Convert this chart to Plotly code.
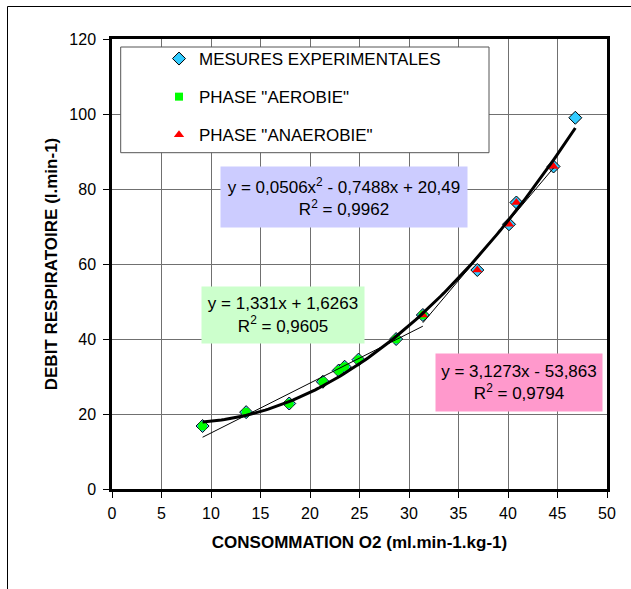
import plotly.graph_objects as go

# ---- data ----
vo2 = [9.15, 13.55, 17.9, 21.3, 22.9, 23.5, 24.9, 28.7, 31.4, 36.9, 40.1, 40.85, 44.6, 46.8]
debit = [16.8, 20.5, 22.8, 28.6, 31.6, 32.6, 34.5, 40.0, 46.4, 58.4, 70.6, 76.4, 86.0, 99.0]

aero_x = [9.15, 13.55, 17.9, 21.3, 22.9, 23.5, 24.9, 28.7, 31.4]
aero_y = [16.8, 20.5, 22.8, 28.6, 31.6, 32.6, 34.5, 40.0, 46.4]

anaero_x = [31.4, 36.9, 40.1, 40.85, 44.6]
anaero_y = [46.4, 58.4, 70.6, 76.4, 86.0]

# trendline coefficients as printed on the chart
poly_coefs = [0.0506, -0.7488, 20.49]
aero_coefs = [1.331, 1.6263]
anaero_coefs = [3.1273, -53.863]

x_ticks = [0, 5, 10, 15, 20, 25, 30, 35, 40, 45, 50]
y_ticks = [0, 20, 40, 60, 80, 100, 120]

FONT = "Liberation Sans, Arial, sans-serif"

# ---- trendline evaluation ----
def sample(x0, x1, n=120):
    return [x0 + (x1 - x0) * i / (n - 1) for i in range(n)]

px_ = sample(min(vo2), max(vo2))
py_ = [poly_coefs[0] * x * x + poly_coefs[1] * x + poly_coefs[2] for x in px_]
ax_ = [min(aero_x), max(aero_x)]
ay_ = [aero_coefs[0] * x + aero_coefs[1] for x in ax_]
nx_ = [min(anaero_x), max(anaero_x)]
ny_ = [anaero_coefs[0] * x + anaero_coefs[1] for x in nx_]

fig = go.Figure()

fig.add_trace(go.Scatter(
    x=vo2, y=debit, mode="markers", name="MESURES EXPERIMENTALES",
    legendgroup="a",
    marker=dict(symbol="diamond", size=10, color="#33CCFF",
                line=dict(color="black", width=1)),
))
fig.add_trace(go.Scatter(
    x=aero_x, y=aero_y, mode="markers", name='PHASE "AEROBIE"',
    showlegend=False,
    marker=dict(symbol="circle", size=9, color="#00FF00", line=dict(width=0)),
))
fig.add_trace(go.Scatter(
    x=[None], y=[None], mode="markers", name='PHASE "AEROBIE"',
    legendgroup="b",
    marker=dict(symbol="square", size=8, color="#00FF00", line=dict(width=0)),
))
fig.add_trace(go.Scatter(
    x=anaero_x, y=anaero_y, mode="markers", name='PHASE "ANAEROBIE"',
    legendgroup="c",
    marker=dict(symbol="triangle-up", size=9, color="#FF0000", line=dict(width=0)),
))
fig.add_trace(go.Scatter(x=px_, y=py_, mode="lines", showlegend=False,
                         line=dict(color="black", width=3), hoverinfo="skip"))
fig.add_trace(go.Scatter(x=ax_, y=ay_, mode="lines", showlegend=False,
                         line=dict(color="black", width=1), hoverinfo="skip"))
fig.add_trace(go.Scatter(x=nx_, y=ny_, mode="lines", showlegend=False,
                         line=dict(color="black", width=1), hoverinfo="skip"))

L, R, T, B = 112, 24, 39, 100
W, H = 631, 589
PW, PH = W - L - R, H - T - B

def pxx(p):
    return (p - L) / PW

def pyy(p):
    return (H - B - p) / PH

fig.update_layout(
    width=W, height=H,
    margin=dict(l=L, r=R, t=T, b=B, pad=0),
    paper_bgcolor="white", plot_bgcolor="white",
    font=dict(family=FONT, size=16, color="black"),
    showlegend=True,
    legend=dict(x=pxx(159), y=pyy(41), xanchor="left", yanchor="top",
                bgcolor="rgba(0,0,0,0)", borderwidth=0,
                font=dict(family=FONT, size=17, color="black"),
                traceorder="grouped", tracegroupgap=13),
    xaxis=dict(range=[0, 50], tickvals=x_ticks, ticks="outside", ticklen=6,
               tickcolor="black", showline=True, linecolor="black", linewidth=2.5,
               mirror=True, showgrid=True, gridcolor="#707070", gridwidth=1,
               zeroline=False, tickfont=dict(size=16), ticklabelstandoff=2,
               title=dict(text="<b>CONSOMMATION O2 (ml.min-1.kg-1)</b>",
                          font=dict(size=17), standoff=16)),
    yaxis=dict(range=[0, 120], tickvals=y_ticks, ticks="outside", ticklen=6,
               tickcolor="black", showline=True, linecolor="black", linewidth=2.5,
               mirror=True, showgrid=True, gridcolor="#707070", gridwidth=1,
               zeroline=False, tickfont=dict(size=16), ticklabelstandoff=4,
               title=dict(text="<b>DEBIT RESPIRATOIRE (l.min-1)</b>",
                          font=dict(size=17), standoff=8)),
    shapes=[
        dict(type="rect", xref="paper", yref="paper",
             x0=pxx(7.5), x1=1.3, y0=-0.4, y1=pyy(6.5),
             line=dict(color="black", width=1), fillcolor="rgba(0,0,0,0)",
             layer="below"),
        dict(type="rect", xref="paper", yref="paper",
             x0=pxx(120.7), x1=pxx(489), y0=pyy(152.7), y1=pyy(47),
             line=dict(color="#555555", width=1), fillcolor="white",
             layer="above"),
    ],
    annotations=[
        dict(xref="paper", yref="paper", x=pxx(343.7), y=pyy(197),
             xanchor="center", yanchor="middle", showarrow=False,
             text="y = 0,0506x<sup>2</sup> - 0,7488x + 20,49<br>R<sup>2</sup> = 0,9962",
             bgcolor="#CCCCFF", width=246, height=60, borderpad=0,
             font=dict(size=17)),
        dict(xref="paper", yref="paper", x=pxx(283), y=pyy(315.3),
             xanchor="center", yanchor="middle", showarrow=False,
             text="y = 1,331x + 1,6263<br>R<sup>2</sup> = 0,9605",
             bgcolor="#CCFFCC", width=162, height=56, borderpad=0,
             font=dict(size=17)),
        dict(xref="paper", yref="paper", x=pxx(518.8), y=pyy(382.3),
             xanchor="center", yanchor="middle", showarrow=False,
             text="y = 3,1273x - 53,863<br>R<sup>2</sup> = 0,9794",
             bgcolor="#FF99CC", width=166, height=57, borderpad=0,
             font=dict(size=17)),
    ],
)

fig.write_html("out.html")
